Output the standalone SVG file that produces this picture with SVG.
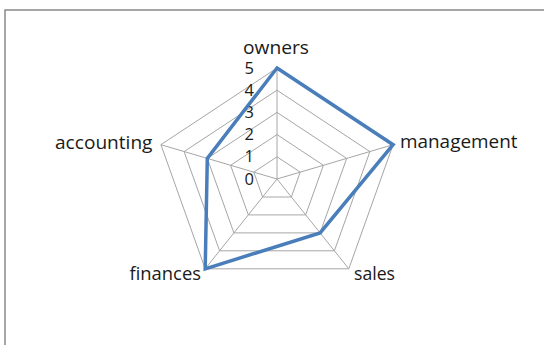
<svg xmlns="http://www.w3.org/2000/svg" width="544" height="345" viewBox="0 0 544 345">
<style>
.grid{fill:none;stroke:#a6a6a6;stroke-width:1}
.lbl{font-family:"Open Sans","Liberation Sans",sans-serif;font-size:18px;fill:#1a1a1a}
.tick{font-family:"Open Sans","Liberation Sans",sans-serif;font-size:16.5px;fill:#1a1a1a;text-anchor:end}
.data{fill:none;stroke:#4a7ebb;stroke-width:3.5;stroke-linejoin:miter}
</style>
<rect x="0" y="0" width="544" height="345" fill="#ffffff"/>
<rect x="5" y="10" width="600" height="400" fill="none" stroke="#898989" stroke-width="1.5"/>
<g id="grid">
<polygon class="grid" points="277,156.8 300.2,172.1 291.4,197 262.6,197 253.8,172.1"/>
<polygon class="grid" points="277,134.6 323.4,165.3 305.7,214.9 248.3,214.9 230.6,165.3"/>
<polygon class="grid" points="277,112.4 346.7,158.4 320.1,232.9 233.9,232.9 207.3,158.4"/>
<polygon class="grid" points="277,90.2 369.9,151.6 334.4,250.8 219.6,250.8 184.1,151.6"/>
<polygon class="grid" points="277,68 393.1,144.7 348.8,268.8 205.2,268.8 160.9,144.7"/>
<path class="grid" d="M277,179V68M277,179L393.1,144.7M277,179L348.8,268.8M277,179L205.2,268.8M277,179L160.9,144.7"/>
</g>
<g id="ticks">
<text class="tick" x="254" y="73.5">5</text>
<text class="tick" x="254" y="95.7">4</text>
<text class="tick" x="254" y="117.9">3</text>
<text class="tick" x="254" y="140.1">2</text>
<text class="tick" x="254" y="162.3">1</text>
<text class="tick" x="254" y="184.5">0</text>
</g>
<g id="series">
<polygon class="data" points="277,68 393.1,144.7 320.1,232.9 205.2,268.8 207.3,158.4"/>
</g>
<g id="owners"><text class="lbl" x="243" y="53.5" textLength="66" lengthAdjust="spacingAndGlyphs">owners</text></g>
<g id="management"><text class="lbl" x="400" y="147.5" textLength="117.5" lengthAdjust="spacingAndGlyphs">management</text></g>
<g id="sales"><text class="lbl" x="354" y="280" textLength="41" lengthAdjust="spacingAndGlyphs">sales</text></g>
<g id="finances"><text class="lbl" x="129.5" y="280" textLength="71.5" lengthAdjust="spacingAndGlyphs">finances</text></g>
<g id="accounting"><text class="lbl" x="55" y="148.5" textLength="97.5" lengthAdjust="spacingAndGlyphs">accounting</text></g>
</svg>
